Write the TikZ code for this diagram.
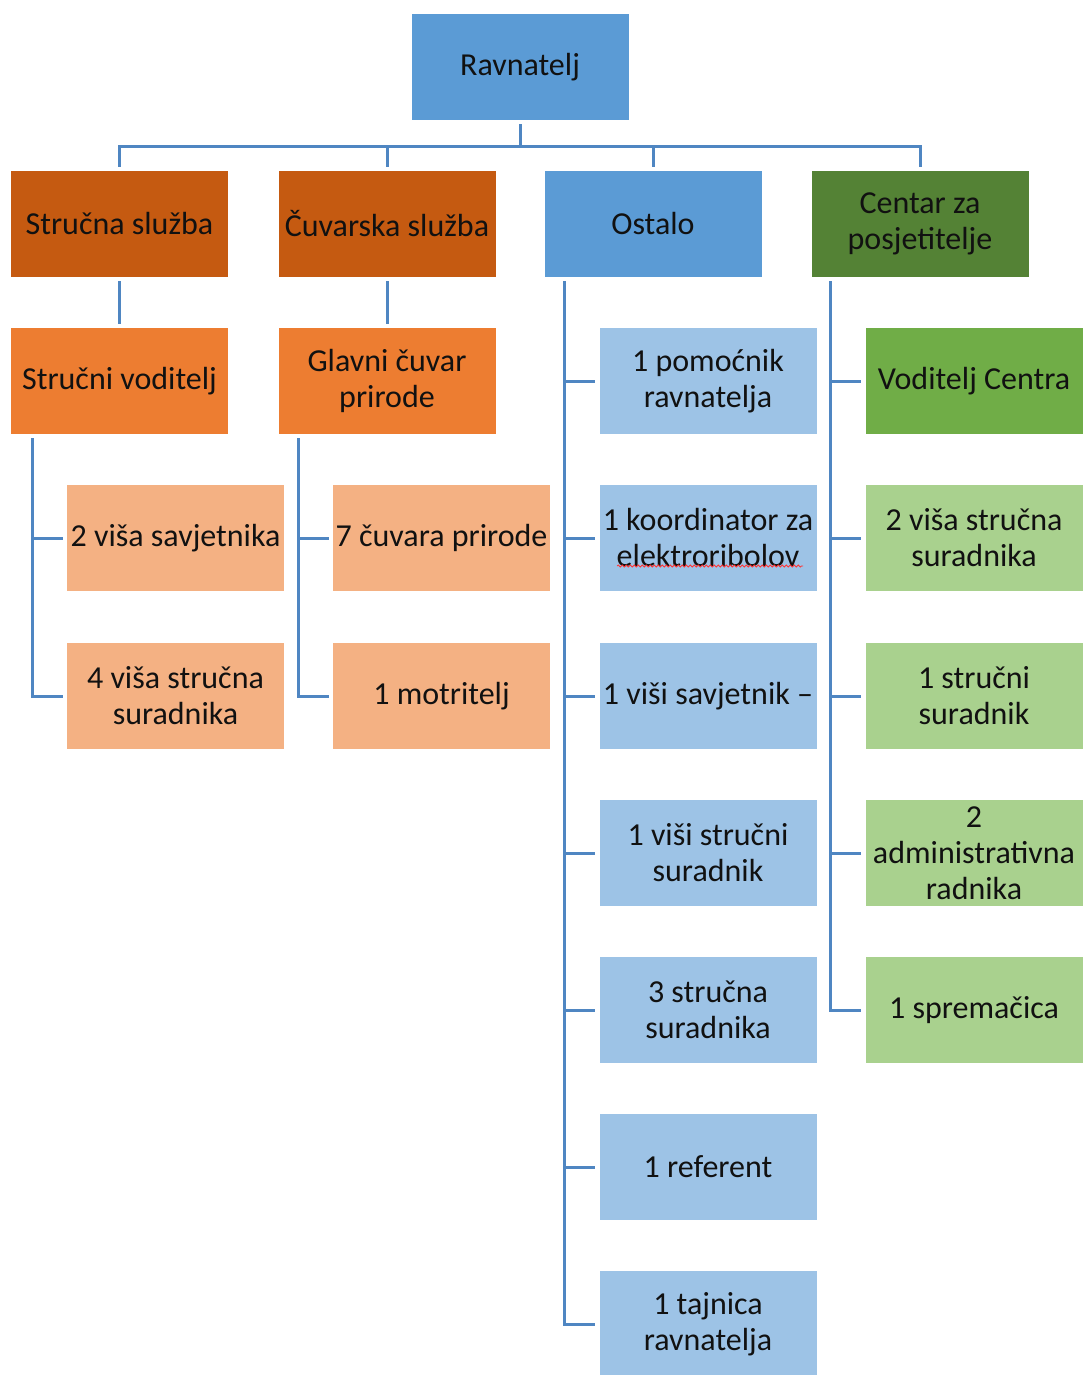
\documentclass[tikz,border=0pt]{standalone}
\usepackage{fontspec}
\setmainfont{Carlito}
\usetikzlibrary{decorations.pathmorphing}
\definecolor{cblue}{HTML}{5B9BD5}
\definecolor{clblue}{HTML}{9DC3E6}
\definecolor{cdorange}{HTML}{C55A11}
\definecolor{corange}{HTML}{ED7D31}
\definecolor{clorange}{HTML}{F4B183}
\definecolor{cdgreen}{HTML}{548235}
\definecolor{cgreen}{HTML}{70AD47}
\definecolor{clgreen}{HTML}{A9D18E}
\definecolor{cline}{HTML}{4F86C2}
\definecolor{ctext}{HTML}{111111}
\begin{document}
\begin{tikzpicture}[x=1pt,y=-1pt,
  box/.style={minimum width=217pt, minimum height=106pt, inner sep=0pt, align=center,
    font=\fontsize{32}{36}\selectfont, text=ctext},
  bl/.style={box, fill=cblue},
  lbl/.style={box, fill=clblue},
  dor/.style={box, fill=cdorange},
  ora/.style={box, fill=corange},
  lor/.style={box, fill=clorange},
  dgr/.style={box, fill=cdgreen},
  gre/.style={box, fill=cgreen},
  lgr/.style={box, fill=clgreen},
  conn/.style={draw=cline, line width=3pt}]
\useasboundingbox (0,0) rectangle (1085,1375);
\fill[white] (0,0) rectangle (1085,1375);
% top
\node[bl] (rav) at (520,67) {Ravnatelj};
% level 1
\node[dor] (s1) at (119.5,224) {Stručna služba};
\node[dor] (s2) at (387,224) {Čuvarska služba};
\node[bl]  (s3) at (653,224) {Ostalo};
\node[dgr] (s4) at (920,224) {Centar za\\posjetitelje};
% level 2
\node[ora] (sv) at (119.5,381) {Stručni voditelj};
\node[ora] (gc) at (387,381) {Glavni čuvar\\prirode};
% Stručni voditelj children
\node[lor] (a1) at (175.5,538) {2 viša savjetnika};
\node[lor] (a2) at (175.5,696) {4 viša stručna\\suradnika};
% Glavni čuvar children
\node[lor] (b1) at (441.5,538) {7 čuvara prirode};
\node[lor] (b2) at (441.5,696) {1 motritelj};
% Ostalo children
\node[lbl] (o1) at (708,381) {1 pomoćnik\\ravnatelja};
\node[lbl] (o2) at (708,538) {1 koordinator za\\elektroribolov};
\node[lbl] (o3) at (708,696) {1 viši savjetnik –};
\node[lbl] (o4) at (708,853) {1 viši stručni\\suradnik};
\node[lbl] (o5) at (708,1010) {3 stručna\\suradnika};
\node[lbl] (o6) at (708,1167) {1 referent};
\node[lbl] (o7) at (708,1324) {1 tajnica\\ravnatelja};
% Centar children
\node[gre] (c1) at (974,381) {Voditelj Centra};
\node[lgr] (c2) at (974,538) {2 viša stručna\\suradnika};
\node[lgr] (c3) at (974,696) {1 stručni\\suradnik};
\node[lgr] (c4) at (974,853) {2\\administrativna\\radnika};
\node[lgr] (c5) at (974,1010) {1 spremačica};
% spell-check squiggle
\draw[red!80, line width=0.8pt, decorate, decoration={snake, amplitude=1pt, segment length=4pt}]
  ([shift={(-91,28)}]o2.center) -- ([shift={(95,28)}]o2.center);
% bus from Ravnatelj
\coordinate (bus) at (520,147);
\draw[conn] ([yshift=-4pt]rav.south) -- (bus);
\foreach \n in {s1,s2,s3,s4}{
  \draw[conn] ([yshift=4pt]\n.north) |- (bus);
}
% level1 -> level2
\draw[conn] ([yshift=-4pt]s1.south) -- ([yshift=4pt]sv.north);
\draw[conn] ([yshift=-4pt]s2.south) -- ([yshift=4pt]gc.north);
% Stručni voditelj children
\foreach \n in {a1,a2}{
  \draw[conn] ([xshift=22pt,yshift=-4pt]sv.south west) |- ([xshift=-4pt]\n.west);
}
% Glavni čuvar children
\foreach \n in {b1,b2}{
  \draw[conn] ([xshift=20pt,yshift=-4pt]gc.south west) |- ([xshift=-4pt]\n.west);
}
% Ostalo children
\foreach \n in {o1,o2,o3,o4,o5,o6,o7}{
  \draw[conn] ([xshift=20pt,yshift=-4pt]s3.south west) |- ([xshift=-4pt]\n.west);
}
% Centar children
\foreach \n in {c1,c2,c3,c4,c5}{
  \draw[conn] ([xshift=19pt,yshift=-4pt]s4.south west) |- ([xshift=-4pt]\n.west);
}
\end{tikzpicture}
\end{document}
